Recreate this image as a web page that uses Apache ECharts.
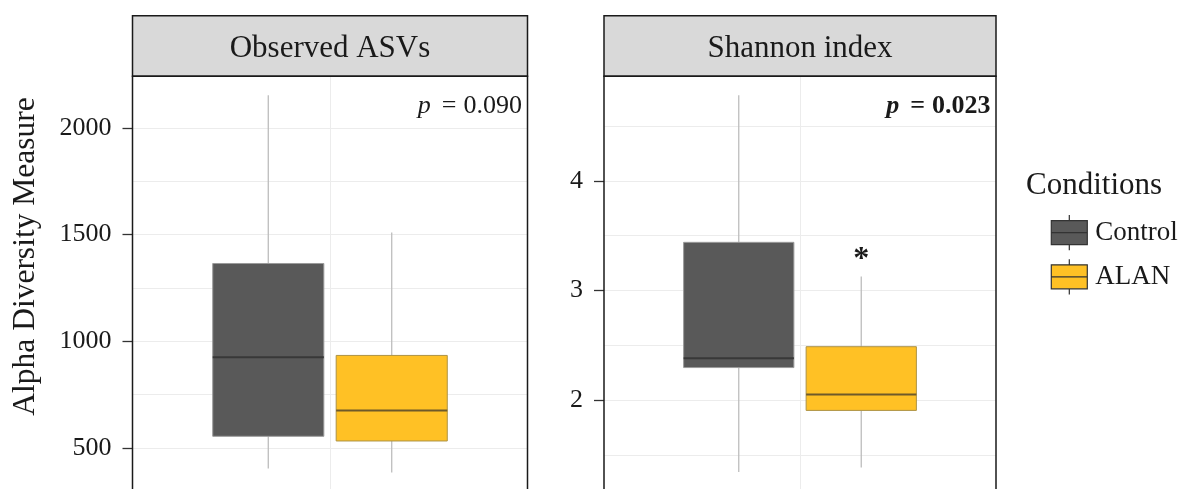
<!DOCTYPE html>
<html><head><meta charset="utf-8">
<script src="https://cdn.jsdelivr.net/npm/echarts@6/dist/echarts.min.js"></script>
<style>html,body{margin:0;padding:0;background:#fff}#chart{width:1186px;height:489px}</style>
</head><body><div id="chart"></div>
<script>
// ---------------- data ----------------
const panelTitles = ['Observed ASVs', 'Shannon index'];
const conditions = ['Control', 'ALAN'];
// box statistics: [lower whisker, Q1, median, Q3, upper whisker]
const observedControl = [403, 554, 925, 1364, 2153];
const observedALAN    = [384, 532, 675, 933, 1509];
const shannonControl  = [1.35, 2.30, 2.385, 3.44, 4.78];
const shannonALAN     = [1.39, 1.91, 2.055, 2.49, 3.13];
const pValues = ['0.090', '0.023'];
const pSignificant = [false, true];
const significanceMarks = [['', ''], ['', '*']];
const observedTicks = [500, 1000, 1500, 2000];
const observedGrid  = [500, 750, 1000, 1250, 1500, 1750, 2000];
const shannonTicks = [2, 3, 4];
const shannonGrid  = [1.5, 2, 2.5, 3, 3.5, 4, 4.5];
const observedVisibleMin = 306.9;   // lower edge of the visible (cropped) panel
const shannonVisibleMin  = 1.1945;
const yTitle = 'Alpha Diversity Measure';
const legendTitle = 'Conditions';

// ---------------- style / layout ----------------
const FONT = "'Liberation Serif', 'Times New Roman', serif";
const TEXT = '#1a1a1a';
const GRID_COLOR = '#ececec';
const condStyle = {
  Control: { fill: '#595959', stroke: '#9a9a9a', median: '#383838' },
  ALAN:    { fill: '#FFC125', stroke: '#ad9245', median: '#6e5a2a' }
};
const panelStats = [[observedControl, observedALAN], [shannonControl, shannonALAN]];
const panelTicks = [observedTicks, shannonTicks];
const panelGrid = [observedGrid, shannonGrid];
const panelMin = [observedVisibleMin, shannonVisibleMin];
const layout = [
  { left: 132.5, width: 395, top: 76.3 },
  { left: 604,   width: 392, top: 76.3 }
];
const CHART_H = 489;
const STRIP_TOP = 15.7;
const CATEGORY_X = 1, DODGE = 0.75, BOX_PAD = 0.1;
const halfBox = DODGE / conditions.length * (1 - BOX_PAD) / 2;

function yMaxOf(pair) {
  const lo = Math.min(...pair.map(s => s[0]));
  const hi = Math.max(...pair.map(s => s[4]));
  return hi + 0.05 * (hi - lo);
}

function makeRender(cond, mark) {
  const st = condStyle[cond];
  return function (params, api) {
    const x = api.value(0);
    const lo = api.value(1), q1 = api.value(2), med = api.value(3), q3 = api.value(4), hi = api.value(5);
    const pHi = api.coord([x, hi]), pLo = api.coord([x, lo]);
    const pQ3 = api.coord([x + halfBox, q3]), pQ1 = api.coord([x - halfBox, q1]);
    const pMl = api.coord([x - halfBox, med]), pMr = api.coord([x + halfBox, med]);
    const children = [
      { type: 'line', shape: { x1: pHi[0], y1: pHi[1], x2: pHi[0], y2: pQ3[1] }, style: { stroke: '#bdbdbd', lineWidth: 1.3 } },
      { type: 'line', shape: { x1: pLo[0], y1: pQ1[1], x2: pLo[0], y2: pLo[1] }, style: { stroke: '#bdbdbd', lineWidth: 1.3 } },
      { type: 'rect', shape: { x: pQ1[0], y: pQ3[1], width: pQ3[0] - pQ1[0], height: pQ1[1] - pQ3[1] },
        style: { fill: st.fill, stroke: st.stroke, lineWidth: 1 } },
      { type: 'line', shape: { x1: pMl[0], y1: pMl[1], x2: pMr[0], y2: pMr[1] }, style: { stroke: st.median, lineWidth: 2 } }
    ];
    if (mark) {
      children.push({ type: 'text', x: pHi[0], y: pHi[1] - 17,
        style: { text: mark, fontSize: 32, fontWeight: 'bold', fontFamily: FONT, fill: TEXT, align: 'center', verticalAlign: 'middle' } });
    }
    return { type: 'group', children };
  };
}

const grid = [], xAxis = [], yAxis = [], series = [], graphic = [];
layout.forEach((L, pi) => {
  const ticks = panelTicks[pi];
  grid.push({ left: L.left, top: L.top, width: L.width, height: CHART_H - L.top, show: false, containLabel: false });
  // ggplot discrete x range 0.4 .. 1.6, one category at x = 1
  xAxis.push({ gridIndex: pi, type: 'value', min: 0.4, max: 1.6, show: false });
  yAxis.push({ gridIndex: pi, type: 'value', min: panelMin[pi], max: yMaxOf(panelStats[pi]),
    axisLine: { show: false },
    axisTick: { show: true, length: 10, customValues: ticks, lineStyle: { color: '#333', width: 1.3 } },
    axisLabel: { customValues: ticks, margin: 21, fontSize: 26, fontFamily: FONT, color: TEXT,
      formatter: v => String(v) },
    splitLine: { show: false } });

  // grid lines (horizontal at major/minor breaks, vertical at the category)
  series.push({ type: 'line', name: 'grid' + pi, xAxisIndex: pi, yAxisIndex: pi, data: [], silent: true, z: 1,
    markLine: { silent: true, z: 1, symbol: ['none', 'none'], label: { show: false },
      lineStyle: { color: GRID_COLOR, width: 1, type: 'solid' },
      emphasis: { disabled: true },
      data: panelGrid[pi].map(v => ({ yAxis: v })).concat([{ xAxis: CATEGORY_X }]) } });

  panelStats[pi].forEach((stats, ci) => {
    const cond = conditions[ci];
    const xpos = CATEGORY_X + (ci - (conditions.length - 1) / 2) * DODGE / conditions.length;
    series.push({ type: 'custom', name: cond, xAxisIndex: pi, yAxisIndex: pi, z: 3,
      itemStyle: { color: condStyle[cond].fill },
      encode: { x: 0, y: [1, 2, 3, 4, 5] },
      data: [[xpos].concat(stats)],
      renderItem: makeRender(cond, significanceMarks[pi][ci]) });
  });

  // strip
  graphic.push({ type: 'rect', z: 100, silent: true,
    shape: { x: L.left, y: STRIP_TOP, width: L.width, height: L.top - STRIP_TOP },
    style: { fill: '#D9D9D9', stroke: TEXT, lineWidth: 1.5 } });
  graphic.push({ type: 'text', z: 101, silent: true, x: L.left + L.width / 2, y: 48.5,
    style: { text: panelTitles[pi], fontSize: 31, fontFamily: FONT, fill: TEXT, align: 'center', verticalAlign: 'middle' } });
  // panel border
  graphic.push({ type: 'rect', z: 100, silent: true,
    shape: { x: L.left, y: L.top, width: L.width, height: 520 },
    style: { fill: 'none', stroke: TEXT, lineWidth: 1.5 } });
  // p value
  const fw = pSignificant[pi] ? 'bold' : 'normal';
  graphic.push({ type: 'text', z: 101, silent: true, x: L.left + L.width - 5.5, y: 106.5,
    style: { text: '{p|p}{eq|=}{v|' + pValues[pi] + '}', align: 'right', verticalAlign: 'middle', fill: TEXT,
      fontSize: 26, fontFamily: FONT, fontWeight: fw,
      rich: {
        p: { fontSize: 26, fontFamily: FONT, fontWeight: fw, fontStyle: 'italic', fill: TEXT, padding: [0, 11, 0, 0] },
        eq: { fontSize: 26, fontFamily: FONT, fontWeight: fw, fill: TEXT, padding: [0, 7, 0, 0] },
        v: { fontSize: 26, fontFamily: FONT, fontWeight: fw, fill: TEXT }
      } } });
});

graphic.push({ type: 'text', z: 101, silent: true, x: 25.3, y: 256.5, rotation: Math.PI / 2,
  style: { text: yTitle, fontSize: 31.5, fontFamily: FONT, fill: TEXT, align: 'center', verticalAlign: 'middle' } });
graphic.push({ type: 'text', z: 101, silent: true, x: 1026, y: 186,
  style: { text: legendTitle, fontSize: 31, fontFamily: FONT, fill: TEXT, align: 'left', verticalAlign: 'middle' } });

const ICON = 'path://M0,5 L36,5 L36,29 L0,29 Z M0,17 L36,17 L36,17.02 L0,17.02 Z M18,0 L18.02,0 L18.02,5 L18,5 Z M18,29 L18.02,29 L18.02,34 L18,34 Z';

const chart = echarts.init(document.getElementById('chart'), null, { renderer: 'canvas' });
chart.setOption({
  animation: false,
  backgroundColor: '#fff',
  grid, xAxis, yAxis, series, graphic,
  legend: {
    orient: 'vertical', left: 1050.7, top: 215, padding: 0,
    itemWidth: 36, itemHeight: 34, itemGap: 9, selectedMode: false,
    data: conditions.map(n => ({ name: n, icon: ICON })),
    itemStyle: { borderColor: '#333', borderWidth: 1.2 },
    textStyle: { fontSize: 27, fontFamily: FONT, color: TEXT, padding: [0, 0, 0, 3] }
  }
});
</script>
</body></html>
